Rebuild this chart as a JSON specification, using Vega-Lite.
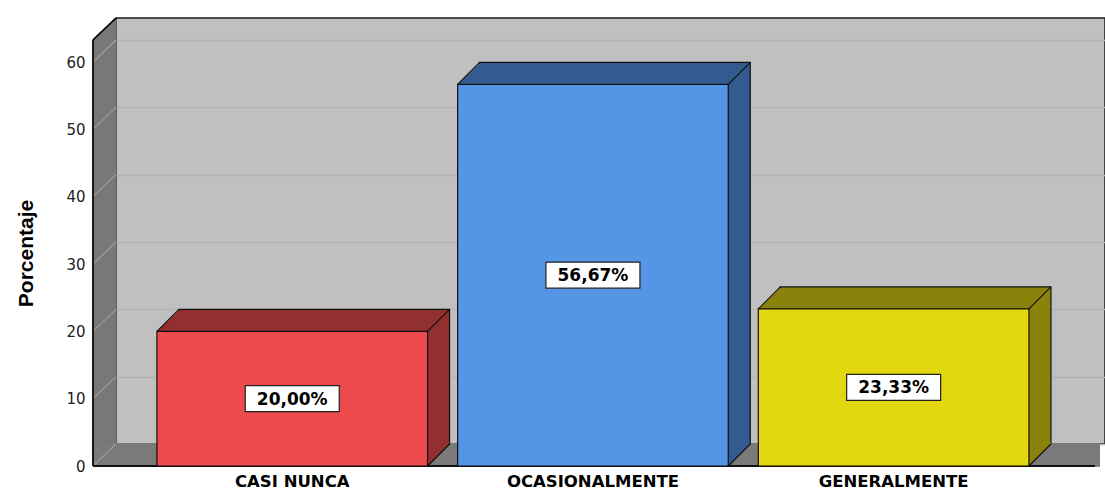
{
  "$schema": "https://vega.github.io/schema/vega-lite/v6.json",
  "width": 989,
  "height": 426,
  "autosize": "none",
  "padding": {"left": 116, "top": 18, "right": 0, "bottom": 47},
  "background": "white",
  "config": {"view": {"fill": "#c0c0c0", "stroke": "#1a1a1a", "strokeWidth": 1.5}},
  "data": {"values": [
    {"cat": "CASI NUNCA", "pct": 20.0, "label": "20,00%"},
    {"cat": "OCASIONALMENTE", "pct": 56.67, "label": "56,67%"},
    {"cat": "GENERALMENTE", "pct": 23.33, "label": "23,33%"}
  ]},
  "layer": [
    {
      "mark": {"type": "rule", "color": "#7a7a7a", "strokeWidth": 23.5, "strokeCap": "butt", "yOffset": 10.75, "xOffset": -5, "x2Offset": -23},
      "encoding": {"y": {"datum": 0, "type": "quantitative", "scale": {"domain": [0, 63.27], "nice": false}, "axis": null}}
    },
    {
      "encoding": {"x": {"datum": 0, "type": "quantitative", "scale": {"domain": [0, 1]}, "axis": null}},
      "layer": [
        {
          "mark": {"type": "point", "shape": "M-1.1,-1.1L0.95,-1.1L0.95,-0.909L-1,0.9565L-1.1,0.9565Z", "filled": true, "fill": "#ffffff", "strokeWidth": 0, "opacity": 1, "size": 529, "xOffset": -11.5, "yOffset": 11},
          "encoding": {"y": {"datum": 63.27, "type": "quantitative", "scale": {"domain": [0, 63.27], "nice": false}, "axis": null}}
        },
        {
          "mark": {"type": "point", "shape": "M-1,-1L1,-1L1,1L-1,1Z", "filled": true, "fill": "#7a7a7a", "strokeWidth": 0, "opacity": 1, "size": 529, "xOffset": -11.5, "yOffset": 11},
          "encoding": {"y": {"datum": 0, "type": "quantitative", "scale": {"domain": [0, 63.27], "nice": false}, "axis": null}}
        },
        {
          "data": {"values": [{"t": 0}, {"t": 10}, {"t": 20}, {"t": 30}, {"t": 40}, {"t": 50}, {"t": 60}]},
          "mark": {"type": "point", "shape": "M-1,0.9565L1,-0.9565", "filled": false, "color": "#9c9c9c", "strokeWidth": 1.2, "opacity": 1, "size": 529, "xOffset": -11.5, "yOffset": 11},
          "encoding": {"y": {"field": "t", "type": "quantitative", "scale": {"domain": [0, 63.27], "nice": false}, "axis": null}}
        },
        {
          "mark": {"type": "point", "shape": "M-1,0.9565L1.1,0.9565", "filled": false, "color": "#111111", "strokeWidth": 1.5, "opacity": 1, "size": 529, "xOffset": -11.5, "yOffset": 11},
          "encoding": {"y": {"datum": 0, "type": "quantitative", "scale": {"domain": [0, 63.27], "nice": false}, "axis": null}}
        },
        {
          "mark": {"type": "point", "shape": "M-1,0.9565L1,-0.9565", "filled": false, "color": "#111111", "strokeWidth": 1.3, "opacity": 1, "size": 529, "xOffset": -11.5, "yOffset": 11},
          "encoding": {"y": {"datum": 63.27, "type": "quantitative", "scale": {"domain": [0, 63.27], "nice": false}, "axis": null}}
        },
        {
          "mark": {"type": "rule", "color": "#111111", "strokeWidth": 1.3, "xOffset": -23, "yOffset": 22, "y2Offset": 22},
          "encoding": {
            "y": {"datum": 63.27, "type": "quantitative", "scale": {"domain": [0, 63.27], "nice": false}, "axis": null},
            "y2": {"datum": 0}
          }
        }
      ]
    },
    {
      "mark": {"type": "rule", "color": "#111111", "strokeWidth": 1.5, "yOffset": 22, "xOffset": -10, "x2Offset": -23},
      "encoding": {"y": {"datum": 0, "type": "quantitative", "scale": {"domain": [0, 63.27], "nice": false}, "axis": null}}
    },
    {
      "encoding": {
        "x": {
          "field": "cat", "type": "nominal", "sort": null,
          "scale": {"paddingInner": 0.1, "paddingOuter": 0.1945, "align": 0.538},
          "axis": {
            "title": null, "orient": "bottom", "offset": 10.5, "domain": false,
            "ticks": false, "tickSize": 0, "labelPadding": 19, "labelOffset": -22,
            "labelAngle": 0, "labelFont": "DejaVu Sans", "labelFontWeight": "bold",
            "labelFontSize": 16.5, "labelColor": "#000000", "labelBaseline": "top", "labelLimit": 0
          }
        }
      },
      "layer": [
        {
          "mark": {"type": "bar", "stroke": "#111111", "strokeWidth": 1.2},
          "encoding": {
            "y": {
              "field": "pct", "type": "quantitative",
              "scale": {"domain": [0, 63.27], "nice": false, "zero": true},
              "axis": {
                "title": "Porcentaje", "orient": "left", "offset": 11.5,
                "values": [0, 10, 20, 30, 40, 50, 60],
                "domainColor": "#787878", "domainWidth": 23, "domainCap": "butt",
                "ticks": false, "tickSize": 0, "labelPadding": 19.5, "labelOffset": 22,
                "labelFont": "DejaVu Sans", "labelFontSize": 15, "labelColor": "#222222",
                "grid": true, "gridColor": "#b2b2b2", "gridWidth": 1.5,
                "titleFont": "Liberation Sans", "titleFontSize": 21, "titleFontWeight": "bold",
                "titleColor": "#000000", "titlePadding": 29, "titleY": 235
              }
            },
            "color": {
              "field": "cat", "type": "nominal", "legend": null,
              "scale": {"domain": ["CASI NUNCA", "OCASIONALMENTE", "GENERALMENTE"], "range": ["#922f2f", "#345b8f", "#8a820a"]}
            }
          }
        },
        {
          "mark": {"type": "point", "shape": "M-1,1L1,-0.9L1.2,-0.9L1.2,1Z", "filled": true, "strokeWidth": 0, "opacity": 1, "size": 484, "xOffset": -11, "yOffset": 11},
          "encoding": {
            "x": {"field": "cat", "type": "nominal", "sort": null, "bandPosition": 0},
            "y": {"field": "pct", "type": "quantitative", "scale": {"domain": [0, 63.27], "nice": false, "zero": true}, "axis": null},
            "color": {
              "field": "cat", "type": "nominal", "legend": null,
              "scale": {"domain": ["CASI NUNCA", "OCASIONALMENTE", "GENERALMENTE"], "range": ["#922f2f", "#345b8f", "#8a820a"]}
            }
          }
        },
        {
          "mark": {"type": "point", "shape": "M-1,-1.15L1,-1.15L1,-1L-1,1Z", "filled": true, "strokeWidth": 0, "opacity": 1, "size": 484, "xOffset": -11, "yOffset": 11},
          "encoding": {
            "x": {"field": "cat", "type": "nominal", "sort": null, "bandPosition": 1},
            "y": {"datum": 0, "type": "quantitative", "scale": {"domain": [0, 63.27], "nice": false, "zero": true}, "axis": null},
            "color": {
              "field": "cat", "type": "nominal", "legend": null,
              "scale": {"domain": ["CASI NUNCA", "OCASIONALMENTE", "GENERALMENTE"], "range": ["#922f2f", "#345b8f", "#8a820a"]}
            }
          }
        },
        {
          "mark": {"type": "bar", "stroke": "#111111", "strokeWidth": 1.2, "xOffset": -22, "x2Offset": -22, "yOffset": 22, "y2Offset": 22},
          "encoding": {
            "y": {"field": "pct", "type": "quantitative", "scale": {"domain": [0, 63.27], "nice": false, "zero": true}, "axis": null},
            "color": {
              "field": "cat", "type": "nominal", "legend": null,
              "scale": {"domain": ["CASI NUNCA", "OCASIONALMENTE", "GENERALMENTE"], "range": ["#ec4a4c", "#5595e5", "#e3d70f"]}
            }
          }
        },
        {
          "mark": {"type": "point", "shape": "M-1,1L1,-1", "filled": false, "color": "#111111", "strokeWidth": 1.2, "opacity": 1, "size": 484, "xOffset": -11, "yOffset": 11},
          "encoding": {
            "x": {"field": "cat", "type": "nominal", "sort": null, "bandPosition": 0},
            "y": {"field": "pct", "type": "quantitative", "scale": {"domain": [0, 63.27], "nice": false, "zero": true}, "axis": null}
          }
        },
        {
          "mark": {"type": "point", "shape": "M-1,1L1,-1", "filled": false, "color": "#111111", "strokeWidth": 1.2, "opacity": 1, "size": 484, "xOffset": -11, "yOffset": 11},
          "encoding": {
            "x": {"field": "cat", "type": "nominal", "sort": null, "bandPosition": 1},
            "y": {"field": "pct", "type": "quantitative", "scale": {"domain": [0, 63.27], "nice": false, "zero": true}, "axis": null}
          }
        },
        {
          "mark": {"type": "point", "shape": "M-1,1L1,-1", "filled": false, "color": "#111111", "strokeWidth": 1.2, "opacity": 1, "size": 484, "xOffset": -11, "yOffset": 11},
          "encoding": {
            "x": {"field": "cat", "type": "nominal", "sort": null, "bandPosition": 1},
            "y": {"datum": 0, "type": "quantitative", "scale": {"domain": [0, 63.27], "nice": false, "zero": true}, "axis": null}
          }
        },
        {
          "mark": {
            "type": "point", "shape": "M-1,-0.2766L1,-0.2766L1,0.2766L-1,0.2766Z",
            "filled": true, "fill": "#ffffff", "stroke": "#222222", "strokeWidth": 1.2,
            "opacity": 1, "size": 8836, "xOffset": -22, "yOffset": 22
          },
          "encoding": {"y": {"field": "pct", "type": "quantitative", "scale": {"domain": [0, 126.54], "nice": false, "zero": true}, "axis": null}}
        },
        {
          "mark": {
            "type": "text", "font": "DejaVu Sans", "fontWeight": "bold", "fontSize": 17,
            "color": "#000000", "align": "center", "baseline": "middle", "xOffset": -22, "yOffset": 23
          },
          "encoding": {
            "y": {"field": "pct", "type": "quantitative", "scale": {"domain": [0, 126.54], "nice": false, "zero": true}, "axis": null},
            "text": {"field": "label"}
          }
        }
      ],
      "resolve": {"scale": {"color": "independent", "y": "independent"}}
    }
  ],
  "resolve": {"scale": {"y": "independent", "x": "independent"}}
}
